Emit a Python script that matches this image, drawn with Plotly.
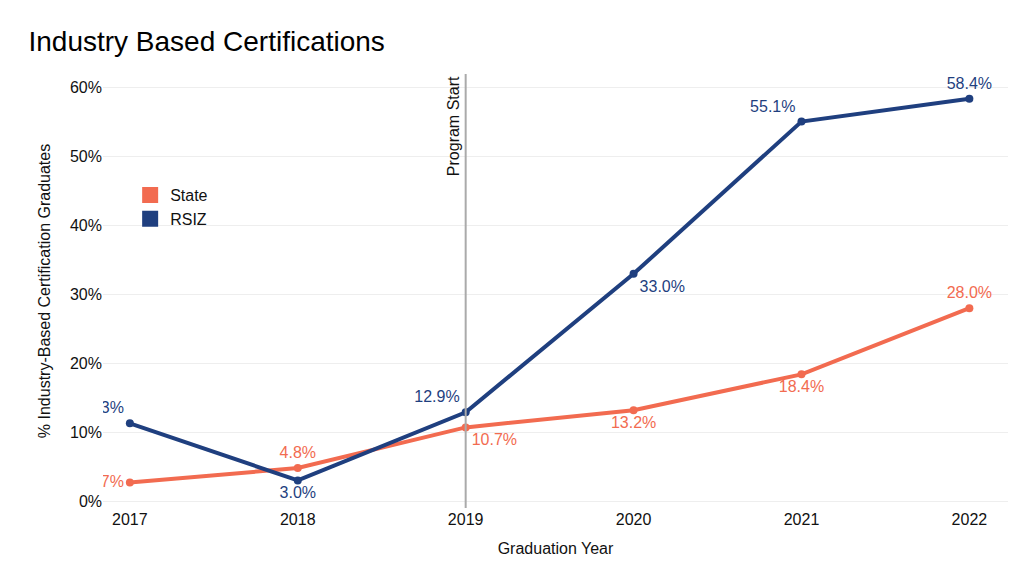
import plotly.graph_objects as go

years = [2017, 2018, 2019, 2020, 2021, 2022]
state = [2.7, 4.8, 10.7, 13.2, 18.4, 28.0]
rsiz = [11.3, 3.0, 12.9, 33.0, 55.1, 58.4]
state_pos = ["middle left", "top center", "bottom right", "bottom center", "bottom center", "top center"]
rsiz_pos = ["top left", "bottom center", "top left", "bottom right", "top left", "top center"]
ytick_vals = [0, 10, 20, 30, 40, 50, 60]

orange = "#F26B50"
navy = "#1F3F7F"

fig = go.Figure()
fig.add_trace(go.Scatter(x=years, y=state, mode="lines+markers+text", showlegend=False,
                         line=dict(color=orange, width=4), marker=dict(size=8),
                         text=[f"{v:.1f}%" for v in state], textposition=state_pos,
                         textfont=dict(color=orange, size=16)))
fig.add_trace(go.Scatter(x=years, y=rsiz, mode="lines+markers+text", showlegend=False,
                         line=dict(color=navy, width=4), marker=dict(size=8),
                         text=[f"{v:.1f}%" for v in rsiz], textposition=rsiz_pos,
                         textfont=dict(color=navy, size=16)))
# legend swatches
for name, c in [("State", orange), ("RSIZ", navy)]:
    fig.add_trace(go.Scatter(x=[None], y=[None], mode="markers", name=name,
                             marker=dict(symbol="square", size=18, color=c)))

fig.add_vline(x=2019, line=dict(color="#aaaaaa", width=2))
fig.add_annotation(x=2019, y=62, xref="x", yref="y", text="Program Start", textangle=-90,
                   showarrow=False, xanchor="right", yanchor="top", xshift=-2,
                   font=dict(size=16, color="#111"))

fig.update_layout(
    width=1024, height=585,
    font=dict(family="Liberation Sans, Arial, sans-serif", color="#111", size=16),
    title=dict(text="Industry Based Certifications", x=0.02, y=0.96, font=dict(size=28, color="#000")),
    plot_bgcolor="white", paper_bgcolor="white",
    margin=dict(l=95, r=24, t=66, b=85),
    legend=dict(x=0.03, y=0.76, bgcolor="rgba(0,0,0,0)", font=dict(size=16)),
    xaxis=dict(title=dict(text="Graduation Year", font=dict(size=16)), tickvals=years,
               range=[2016.84, 2022.23], showgrid=False, ticks="", tickfont=dict(size=16)),
    yaxis=dict(title=dict(text="% Industry-Based Certification Graduates", font=dict(size=16)),
               range=[-1, 62], tickvals=ytick_vals, ticktext=[f"{v}%" for v in ytick_vals],
               gridcolor="#eeeeee", zeroline=False, tickfont=dict(size=16)),
)

fig.write_html("out.html")
